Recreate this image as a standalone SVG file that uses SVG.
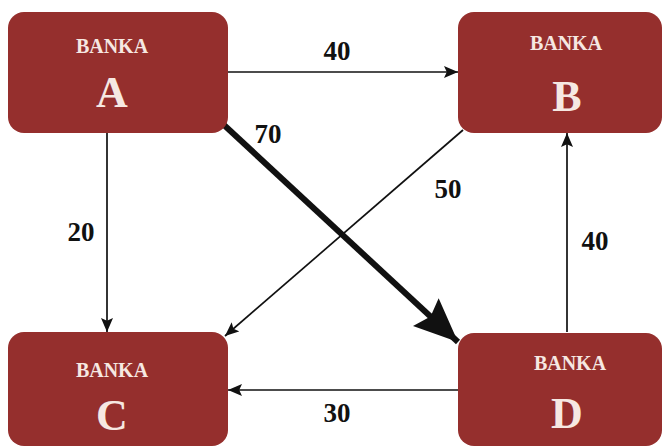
<svg xmlns="http://www.w3.org/2000/svg" width="665" height="448" viewBox="0 0 665 448">
<defs>
<style>
.box{fill:#952f2d}
.t1{font-family:"Liberation Serif",serif;font-weight:bold;font-size:20px;fill:#f6e8e2;text-anchor:middle}
.t2{font-family:"Liberation Serif",serif;font-weight:bold;font-size:44px;fill:#f6e8e2;text-anchor:middle}
.lbl{font-family:"Liberation Serif",serif;font-weight:bold;font-size:27px;fill:#111;text-anchor:middle}
.c{stroke:#111;stroke-width:1.7;fill:none}
</style>
<marker id="ah" viewBox="0 0 10 10" refX="10" refY="5" markerWidth="14" markerHeight="12" markerUnits="userSpaceOnUse" orient="auto" preserveAspectRatio="none"><path d="M0,0 L10,5 L0,10 L2,5 z" fill="#111"/></marker>
<marker id="ahb" viewBox="0 0 10 10" refX="10" refY="5" markerWidth="44" markerHeight="38" markerUnits="userSpaceOnUse" orient="auto" preserveAspectRatio="none"><path d="M0,0 L10,5 L0,10 L1.5,5 z" fill="#111"/></marker>
</defs>
<rect width="665" height="448" fill="#fff"/>
<g id="connectors">
<line class="c" x1="228" y1="72" x2="458" y2="72" marker-end="url(#ah)"/>
<line class="c" x1="107" y1="133" x2="107" y2="332" marker-end="url(#ah)"/>
<line class="c" x1="567" y1="332" x2="567" y2="133" marker-end="url(#ah)"/>
<line class="c" x1="458" y1="390" x2="228" y2="390" marker-end="url(#ah)"/>
<line class="c" x1="463" y1="130" x2="225" y2="336" marker-end="url(#ah)"/>
<line stroke="#111" stroke-width="6" x1="224" y1="125" x2="458" y2="342" marker-end="url(#ahb)"/>
<text class="lbl" x="337" y="60">40</text>
<text class="lbl" x="81" y="241">20</text>
<text class="lbl" x="268" y="143">70</text>
<text class="lbl" x="448" y="198">50</text>
<text class="lbl" x="595" y="250">40</text>
<text class="lbl" x="337" y="422">30</text>
</g>
<g id="nodeA"><rect class="box" x="8" y="12" width="220" height="121" rx="16"/><text class="t1" x="112" y="53">BANKA</text><text class="t2" x="112" y="107">A</text></g>
<g id="nodeB"><rect class="box" x="458" y="12" width="204" height="121" rx="16"/><text class="t1" x="566" y="50">BANKA</text><text class="t2" x="567" y="111">B</text></g>
<g id="nodeC"><rect class="box" x="8" y="332" width="220" height="114" rx="16"/><text class="t1" x="112" y="377">BANKA</text><text class="t2" x="112" y="430">C</text></g>
<g id="nodeD"><rect class="box" x="458" y="333" width="204" height="113" rx="16"/><text class="t1" x="570" y="370">BANKA</text><text class="t2" x="567" y="428">D</text></g>
</svg>
